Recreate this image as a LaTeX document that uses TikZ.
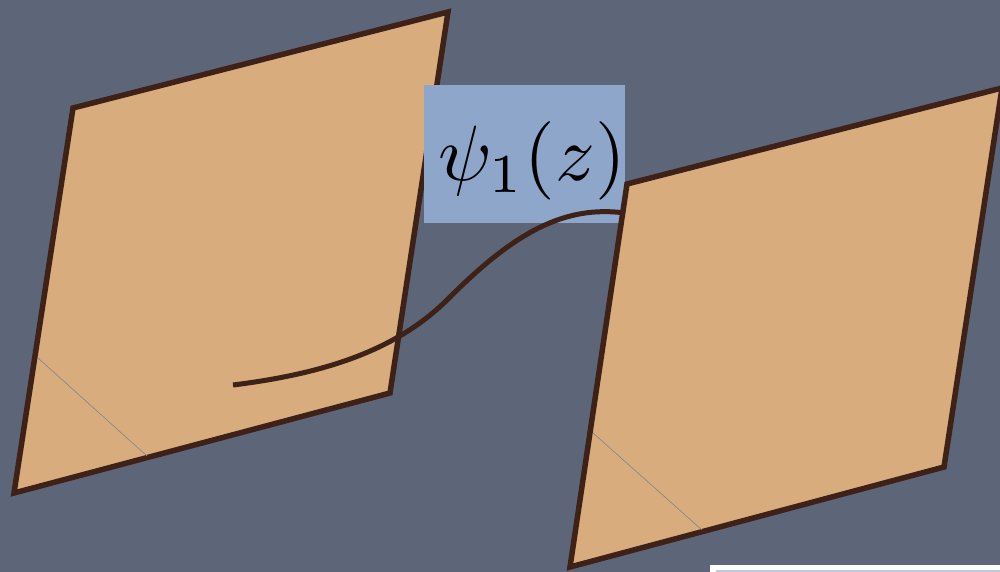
\documentclass[tikz,border=0pt]{standalone}
\usepackage{graphicx}
\definecolor{bgslate}{HTML}{5D6578}
\definecolor{tan}{HTML}{D8AC7C}
\definecolor{brownline}{HTML}{3E2218}
\definecolor{boxblue}{HTML}{8EA6CA}
\definecolor{faint}{HTML}{7E8494}
\tikzset{
  sheet/.style={fill=tan, draw=brownline, line width=5.5pt, line join=miter},
  foldline/.style={draw=faint, line width=0.6pt},
  labelbox/.style={fill=boxblue, draw=none},
  pathcurve/.style={draw=brownline, line width=5pt}
}
\begin{document}
\begin{tikzpicture}[x=1pt,y=-1pt]
\useasboundingbox (0,0) rectangle (1000,572);
\fill[bgslate] (0,0) rectangle (1000,572);
% left sheet
\draw[sheet] (73,108) coordinate (L1) -- (448,12) coordinate (L2) -- (390,393) coordinate (L3) -- (14,493) coordinate (L4) -- cycle;
\coordinate (lf1) at (38,358);
\coordinate (lf2) at (147,456);
\draw[foldline] (lf1) -- (lf2);
% label box
\fill[labelbox] (424,85) rectangle (625,223);
\node[inner sep=0pt] (lab) at (532,161) {\scalebox{7.85}{$\psi_1(z)$}};
% right sheet
\draw[sheet] (627,184) coordinate (R1) -- (1002,88) coordinate (R2) -- (944,467) coordinate (R3) -- (570,567) coordinate (R4) -- cycle;
\coordinate (rf1) at (593,433);
\coordinate (rf2) at (702,530);
\draw[foldline] (rf1) -- (rf2);
% curve
\coordinate (c0) at (233,385);
\coordinate (c1) at (450,297);
\coordinate (c2) at (625,213);
\draw[pathcurve] (c0) .. controls (330,373) and (400,348) .. (c1) .. controls (515,232) and (565,205) .. (c2);
% bottom right box
\fill[white] (710,565) rectangle (1005,580);
\fill[boxblue!60!white] (716,570) rectangle (1005,580);
\end{tikzpicture}
\end{document}
